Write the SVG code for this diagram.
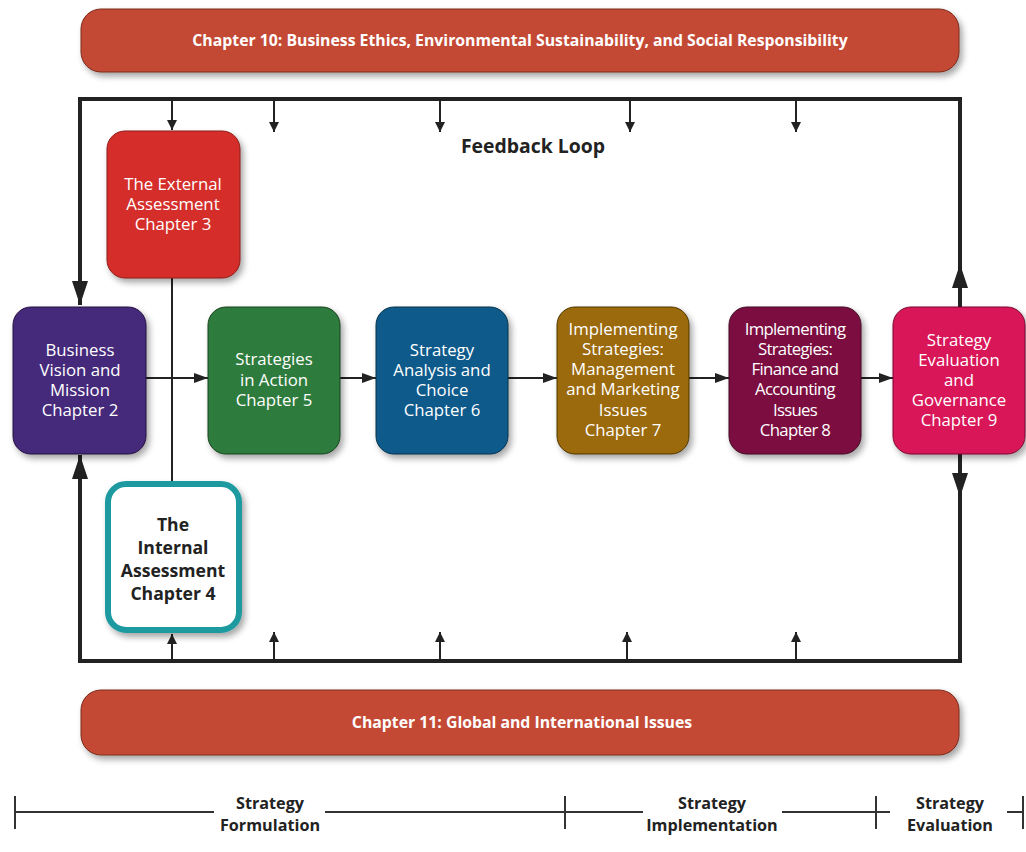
<svg xmlns="http://www.w3.org/2000/svg" width="1026" height="852" viewBox="0 0 1026 852">
  <style>
    .banner { fill: #c44a35; stroke: #7a2a1c; stroke-width: 1; }
    .banner-text { font-family: "Open Sans", "Noto Sans", sans-serif; font-weight: bold; font-size: 15.8px; fill: #ffffff; text-anchor: middle; }
    .box-text { font-family: "Open Sans", "Noto Sans", sans-serif; font-size: 16.8px; fill: #ffffff; text-anchor: middle; }
    .dark-text { font-family: "Open Sans", "Noto Sans", sans-serif; font-weight: bold; font-size: 17.6px; fill: #222222; text-anchor: middle; }
    .title { font-family: "Open Sans", "Noto Sans", sans-serif; font-weight: bold; font-size: 19.4px; fill: #222222; text-anchor: middle; }
    .phase { font-family: "Open Sans", "Noto Sans", sans-serif; font-weight: bold; font-size: 16.2px; fill: #222222; text-anchor: middle; }
    .loop { fill: none; stroke: #222222; stroke-width: 4; }
    .thin { fill: none; stroke: #222222; stroke-width: 2; }
    .tick { fill: none; stroke: #333333; stroke-width: 2; }
  </style>
  <defs>
    <filter id="shadow" x="-20%" y="-20%" width="150%" height="150%">
      <feDropShadow dx="3" dy="4" stdDeviation="3" flood-color="#000000" flood-opacity="0.35"/>
    </filter>
    <marker id="small" viewBox="0 0 10 10" refX="10" refY="5" markerWidth="10" markerHeight="10" markerUnits="userSpaceOnUse" orient="auto">
      <path d="M0,0 L10,5 L0,10 Z" fill="#222222"/>
    </marker>
    <marker id="flow" viewBox="0 0 14 10" refX="14" refY="5" markerWidth="14" markerHeight="10" markerUnits="userSpaceOnUse" orient="auto">
      <path d="M0,0 L14,5 L0,10 Z" fill="#222222"/>
    </marker>
    <marker id="big" viewBox="0 0 24 16" refX="24" refY="8" markerWidth="24" markerHeight="16" markerUnits="userSpaceOnUse" orient="auto">
      <path d="M0,0 L24,8 L0,16 Z" fill="#222222"/>
    </marker>
  </defs>

  <!-- Chapter 10 banner -->
  <g id="chapter10">
    <rect class="banner" x="81" y="9" width="878" height="63" rx="20" filter="url(#shadow)"/>
    <text class="banner-text" x="520" y="46">Chapter 10: Business Ethics, Environmental Sustainability, and Social Responsibility</text>
  </g>

  <!-- Feedback loop and connectors -->
  <g id="connectors">
    <!-- outer loop frame -->
    <path class="loop" d="M80,305 L80,99 L960,99 L960,307"/>
    <path class="loop" d="M80,455 L80,661 L960,661 L960,454"/>
    <!-- big loop arrows -->
    <line class="loop" x1="80" y1="270" x2="80" y2="305" marker-end="url(#big)"/>
    <line class="loop" x1="80" y1="490" x2="80" y2="455" marker-end="url(#big)"/>
    <line class="loop" x1="960" y1="300" x2="960" y2="264" marker-end="url(#big)"/>
    <line class="loop" x1="960" y1="460" x2="960" y2="497" marker-end="url(#big)"/>
    <!-- feedback taps from the top -->
    <line class="thin" x1="172" y1="100" x2="172" y2="130" marker-end="url(#small)"/>
    <line class="thin" x1="274" y1="100" x2="274" y2="132" marker-end="url(#small)"/>
    <line class="thin" x1="440" y1="100" x2="440" y2="132" marker-end="url(#small)"/>
    <line class="thin" x1="630" y1="100" x2="630" y2="132" marker-end="url(#small)"/>
    <line class="thin" x1="796" y1="100" x2="796" y2="132" marker-end="url(#small)"/>
    <!-- feedback taps from the bottom -->
    <line class="thin" x1="172" y1="660" x2="172" y2="634" marker-end="url(#small)"/>
    <line class="thin" x1="274" y1="660" x2="274" y2="632" marker-end="url(#small)"/>
    <line class="thin" x1="440" y1="660" x2="440" y2="632" marker-end="url(#small)"/>
    <line class="thin" x1="627" y1="660" x2="627" y2="632" marker-end="url(#small)"/>
    <line class="thin" x1="796" y1="660" x2="796" y2="632" marker-end="url(#small)"/>
    <!-- external / internal link -->
    <line class="thin" x1="172" y1="278" x2="172" y2="482"/>
    <!-- main flow -->
    <line class="thin" x1="146" y1="378" x2="208" y2="378" marker-end="url(#flow)"/>
    <line class="thin" x1="340" y1="378" x2="376" y2="378" marker-end="url(#flow)"/>
    <line class="thin" x1="508" y1="378" x2="557" y2="378" marker-end="url(#flow)"/>
    <line class="thin" x1="689" y1="378" x2="729" y2="378" marker-end="url(#flow)"/>
    <line class="thin" x1="861" y1="378" x2="893" y2="378" marker-end="url(#flow)"/>
  </g>

  <text class="title" x="533" y="153">Feedback Loop</text>

  <!-- Chapter 3 -->
  <g id="external">
    <rect x="107" y="131" width="133" height="147" rx="18" fill="#d52e29" stroke="#8a1d18" stroke-width="1" filter="url(#shadow)"/>
    <text class="box-text" x="173" y="190">The External</text>
    <text class="box-text" x="173" y="210">Assessment</text>
    <text class="box-text" x="173" y="230">Chapter 3</text>
  </g>

  <!-- Chapter 4 -->
  <g id="internal">
    <rect x="108" y="484" width="131" height="146" rx="18" fill="#ffffff" stroke="#1d9a9f" stroke-width="6" filter="url(#shadow)"/>
    <text class="dark-text" x="173" y="531">The</text>
    <text class="dark-text" x="173" y="554">Internal</text>
    <text class="dark-text" x="173" y="577">Assessment</text>
    <text class="dark-text" x="173" y="600">Chapter 4</text>
  </g>

  <!-- Chapter 2 -->
  <g id="vision">
    <rect x="13" y="307" width="133" height="147" rx="18" fill="#45297b" stroke="#24123f" stroke-width="1" filter="url(#shadow)"/>
    <text class="box-text" x="80" y="356">Business</text>
    <text class="box-text" x="80" y="376">Vision and</text>
    <text class="box-text" x="80" y="396">Mission</text>
    <text class="box-text" x="80" y="416">Chapter 2</text>
  </g>

  <!-- Chapter 5 -->
  <g id="action">
    <rect x="208" y="307" width="132" height="147" rx="18" fill="#2e7b3c" stroke="#17401e" stroke-width="1" filter="url(#shadow)"/>
    <text class="box-text" x="274" y="365">Strategies</text>
    <text class="box-text" x="274" y="386">in Action</text>
    <text class="box-text" x="274" y="406">Chapter 5</text>
  </g>

  <!-- Chapter 6 -->
  <g id="analysis">
    <rect x="376" y="307" width="132" height="147" rx="18" fill="#0c5a8b" stroke="#063049" stroke-width="1" filter="url(#shadow)"/>
    <text class="box-text" x="442" y="356">Strategy</text>
    <text class="box-text" x="442" y="376">Analysis and</text>
    <text class="box-text" x="442" y="396">Choice</text>
    <text class="box-text" x="442" y="416">Chapter 6</text>
  </g>

  <!-- Chapter 7 -->
  <g id="management">
    <rect x="557" y="307" width="132" height="147" rx="18" fill="#9b6a08" stroke="#4f3604" stroke-width="1" filter="url(#shadow)"/>
    <text class="box-text" x="623" y="335">Implementing</text>
    <text class="box-text" x="623" y="355">Strategies:</text>
    <text class="box-text" x="623" y="375">Management</text>
    <text class="box-text" x="623" y="395">and Marketing</text>
    <text class="box-text" x="623" y="416">Issues</text>
    <text class="box-text" x="623" y="436">Chapter 7</text>
  </g>

  <!-- Chapter 8 -->
  <g id="finance">
    <rect x="729" y="307" width="132" height="147" rx="18" fill="#7b1041" stroke="#400820" stroke-width="1" filter="url(#shadow)"/>
    <text class="box-text" x="795" y="335" letter-spacing="-0.7">Implementing</text>
    <text class="box-text" x="795" y="355" letter-spacing="-0.7">Strategies:</text>
    <text class="box-text" x="795" y="375" letter-spacing="-0.7">Finance and</text>
    <text class="box-text" x="795" y="395" letter-spacing="-0.7">Accounting</text>
    <text class="box-text" x="795" y="416" letter-spacing="-0.7">Issues</text>
    <text class="box-text" x="795" y="436" letter-spacing="-0.7">Chapter 8</text>
  </g>

  <!-- Chapter 9 -->
  <g id="evaluation">
    <rect x="893" y="307" width="132" height="147" rx="18" fill="#d81559" stroke="#7a0b31" stroke-width="1" filter="url(#shadow)"/>
    <text class="box-text" x="959" y="346">Strategy</text>
    <text class="box-text" x="959" y="366">Evaluation</text>
    <text class="box-text" x="959" y="386">and</text>
    <text class="box-text" x="959" y="406">Governance</text>
    <text class="box-text" x="959" y="426">Chapter 9</text>
  </g>

  <!-- Chapter 11 banner -->
  <g id="chapter11">
    <rect class="banner" x="81" y="690" width="878" height="65" rx="20" filter="url(#shadow)"/>
    <text class="banner-text" x="522" y="728">Chapter 11:  Global and International Issues</text>
  </g>

  <!-- Phase timeline -->
  <g id="timeline">
    <line class="tick" x1="15" y1="812" x2="214" y2="812"/>
    <line class="tick" x1="325" y1="812" x2="643" y2="812"/>
    <line class="tick" x1="782" y1="812" x2="890" y2="812"/>
    <line class="tick" x1="1007" y1="812" x2="1023" y2="812"/>
    <line class="tick" x1="15" y1="796" x2="15" y2="829"/>
    <line class="tick" x1="565" y1="796" x2="565" y2="829"/>
    <line class="tick" x1="876" y1="796" x2="876" y2="829"/>
    <line class="tick" x1="1023" y1="796" x2="1023" y2="829"/>
    <text class="phase" x="270" y="809">Strategy</text>
    <text class="phase" x="270" y="831">Formulation</text>
    <text class="phase" x="712" y="809">Strategy</text>
    <text class="phase" x="712" y="831">Implementation</text>
    <text class="phase" x="950" y="809">Strategy</text>
    <text class="phase" x="950" y="831">Evaluation</text>
  </g>
</svg>
